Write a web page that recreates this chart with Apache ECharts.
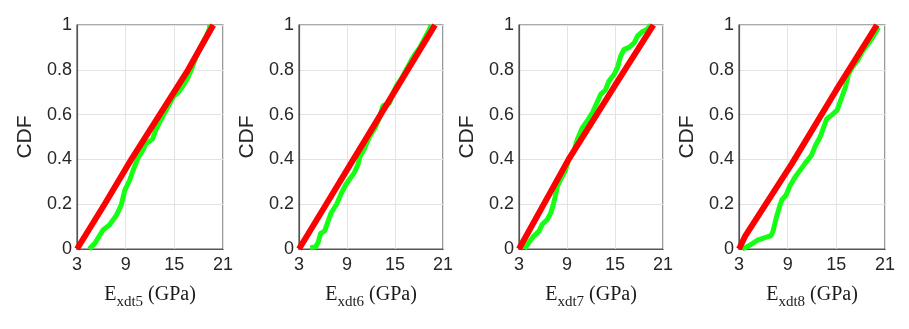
<!DOCTYPE html>
<html>
<head>
<meta charset="utf-8">
<script src="https://cdn.jsdelivr.net/npm/echarts@6/dist/echarts.min.js"></script>
<style>html,body{margin:0;padding:0;background:#fff}#c{width:909px;height:329px}</style>
</head>
<body>
<div id="c"></div>
<script>
const xTickValues = [3, 9, 15, 21];
const subscripts = ['xdt5', 'xdt6', 'xdt7', 'xdt8'];

const green1 = [[4.5,0],[5.2,0.025],[6.2,0.085],[7.0,0.107],[7.85,0.15],[8.45,0.196],[8.9,0.263],[9.5,0.308],[9.9,0.35],[10.5,0.405],[11.1,0.44],[11.5,0.47],[12.3,0.49],[12.7,0.53],[13.1,0.56],[13.7,0.6],[14.3,0.64],[14.9,0.68],[15.5,0.7],[16.1,0.73],[16.6,0.76],[17.1,0.8],[17.6,0.85],[18.2,0.9],[18.8,0.94],[19.3,0.98],[19.4,1.0]];
const red1 = [[3.0,0],[6.4,0.2],[9.7,0.4],[13.2,0.6],[16.7,0.8],[19.8,1.0]];

const green2 = [[4.4,0.005],[5.1,0.01],[5.4,0.03],[5.7,0.07],[6.2,0.08],[6.6,0.12],[7.0,0.16],[7.7,0.2],[8.3,0.25],[8.9,0.29],[9.5,0.32],[9.9,0.34],[10.4,0.38],[10.6,0.41],[11.2,0.45],[11.8,0.5],[12.5,0.54],[13.0,0.58],[13.5,0.64],[14.3,0.65],[14.8,0.7],[15.2,0.73],[15.8,0.76],[16.4,0.8],[17.0,0.84],[17.5,0.87],[18.1,0.9],[18.7,0.94],[19.3,0.98],[19.5,1.0]];
const red2 = [[3.0,0],[6.4,0.2],[9.8,0.4],[13.2,0.6],[16.6,0.8],[20.0,1.0]];

const green3 = [[3.7,0],[4.25,0.03],[4.9,0.06],[5.5,0.08],[5.9,0.11],[6.5,0.13],[6.96,0.16],[7.3,0.2],[7.5,0.23],[7.8,0.28],[8.2,0.31],[8.8,0.35],[9.3,0.41],[9.8,0.43],[10.3,0.49],[10.9,0.54],[11.5,0.57],[12.2,0.61],[12.7,0.65],[13.2,0.69],[13.8,0.71],[14.25,0.75],[14.9,0.78],[15.3,0.81],[15.7,0.86],[16.1,0.89],[16.75,0.9],[17.4,0.92],[17.8,0.95],[18.4,0.97],[19.0,0.98],[19.5,1.0]];
const red3 = [[3.0,0],[9.2,0.4],[15,0.73],[19.8,1.0]];

const green4 = [[3.4,0],[4.0,0.01],[4.7,0.025],[5.3,0.04],[6.1,0.05],[6.96,0.06],[7.2,0.08],[7.6,0.14],[8.0,0.19],[8.3,0.22],[8.8,0.24],[9.25,0.28],[9.9,0.32],[10.5,0.35],[11.1,0.38],[11.96,0.42],[12.4,0.46],[13.0,0.5],[13.4,0.54],[13.8,0.58],[14.5,0.6],[15.1,0.62],[15.7,0.68],[16.1,0.72],[16.5,0.78],[16.96,0.81],[17.6,0.84],[18.2,0.88],[18.8,0.91],[19.4,0.94],[19.9,0.97],[20.2,0.99]];
const red4 = [[3.0,0],[3.8,0.06],[9.5,0.38],[15,0.71],[20.0,1.0]];

const greens = [green1, green2, green3, green4];
const reds = [red1, red2, red3, red4];

const gridPos = [
  {left: 77, width: 146},
  {left: 299, width: 144},
  {left: 519, width: 144},
  {left: 739, width: 146}
];

const grid = [], xAxis = [], yAxis = [], series = [];
gridPos.forEach((g, i) => {
  grid.push({left: g.left, width: g.width, top: 25, height: 224, show: true, borderColor: '#555', borderWidth: 1.2, containLabel: false});
  xAxis.push({
    type: 'value', gridIndex: i, min: 3, max: 21,
    axisLine: {show: true, onZero: false, lineStyle: {color: '#555', width: 1.2}},
    axisTick: {show: false, customValues: xTickValues},
    axisLabel: {customValues: xTickValues, color: '#262626', fontSize: 18, fontFamily: 'Liberation Sans, Arial', margin: 7},
    splitLine: {show: true, lineStyle: {color: '#e3e3e3', width: 1}},
    name: '{a|E}{b|' + subscripts[i] + '}{a| (GPa)}',
    nameLocation: 'middle', nameGap: 31,
    nameTextStyle: {
      rich: {
        a: {fontFamily: 'Liberation Serif, Times New Roman', fontSize: 20, color: '#1a1a1a', lineHeight: 30, verticalAlign: 'middle'},
        b: {fontFamily: 'Liberation Serif, Times New Roman', fontSize: 15, color: '#1a1a1a', lineHeight: 15, verticalAlign: 'bottom'}
      }
    }
  });
  yAxis.push({
    type: 'value', gridIndex: i, min: 0, max: 1, interval: 0.2,
    axisLine: {show: true, lineStyle: {color: '#555', width: 1.2}},
    axisTick: {show: false},
    axisLabel: {color: '#262626', fontSize: 18, fontFamily: 'Liberation Sans, Arial', margin: 5},
    splitLine: {show: true, lineStyle: {color: '#e3e3e3', width: 1}},
    name: 'CDF', nameLocation: 'middle', nameGap: 41,
    nameTextStyle: {fontFamily: 'Liberation Sans, Arial', fontSize: 21, color: '#262626'}
  });
  series.push({
    type: 'line', xAxisIndex: i, yAxisIndex: i, data: greens[i], showSymbol: false, symbol: 'none',
    lineStyle: {color: '#14ff14', width: 5}, z: 2, animation: false
  });
  series.push({
    type: 'line', xAxisIndex: i, yAxisIndex: i, data: reds[i], showSymbol: false, symbol: 'none',
    lineStyle: {color: '#ff0000', width: 6}, z: 3, animation: false
  });
});

const chart = echarts.init(document.getElementById('c'), null, {renderer: 'canvas'});
chart.setOption({animation: false, grid, xAxis, yAxis, series});
</script>
</body>
</html>
